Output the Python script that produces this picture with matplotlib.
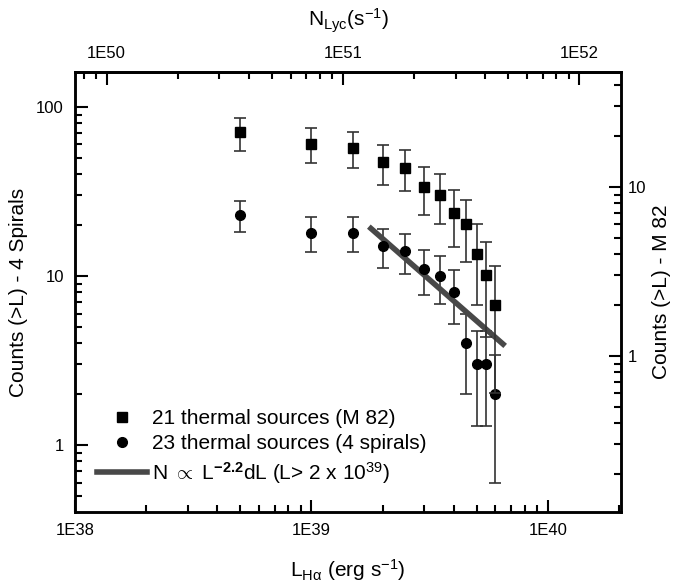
import numpy as np
import matplotlib
matplotlib.use("Agg")
from matplotlib import pyplot as plt
from matplotlib.lines import Line2D
from matplotlib.ticker import LogLocator, FixedLocator, FuncFormatter, NullFormatter

plt.rcParams['font.family'] = ['Liberation Sans', 'DejaVu Sans']
plt.rcParams['mathtext.fontset'] = 'custom'
plt.rcParams['mathtext.rm'] = 'Liberation Sans'
plt.rcParams['mathtext.it'] = 'Liberation Sans'
plt.rcParams['mathtext.bf'] = 'Liberation Sans:bold'

# luminosity bins (erg/s)
lum = [5e38, 1e39, 1.5e39, 2e39, 2.5e39, 3e39, 3.5e39, 4e39, 4.5e39, 5e39, 5.5e39, 6e39]
# M 82 counts (right axis)
m82 = [21, 18, 17, 14, 13, 10, 9, 7, 6, 4, 3, 2]
m82_err = [4.6, 4.2, 4.1, 3.7, 3.6, 3.2, 3.0, 2.6, 2.4, 2.0, 1.7, 1.4]
# 4 spirals counts (left axis)
spir = [23, 18, 18, 15, 14, 11, 10, 8, 4, 3, 3, 2]
spir_err = [4.8, 4.2, 4.2, 3.9, 3.7, 3.3, 3.2, 2.8, 2.0, 1.7, 1.7, 1.4]
# power law fit line ends
fit_l = [1.75e39, 6.6e39]
fit_n = [19.6, 3.86]

bottom_ticks = [1e38, 1e39, 1e40]
top_ticks = [1e50, 1e51, 1e52]
nlyc_per_l = 1.0 / 1.36e-12

fig = plt.figure(figsize=(6.75, 5.84), dpi=100)
ax = fig.add_axes([0.1111, 0.1233, 0.8089, 0.7534])
ax2 = ax.twinx()

ax.set_xscale('log')
ax.set_yscale('log')
ax2.set_yscale('log')
ax.set_xlim(1e38, 2.04e40)
ax.set_ylim(0.402, 161)
ax2.set_ylim(0.119, 47.9)

ebkw = dict(ls='none', ecolor='#333333', elinewidth=1.2, capsize=4, capthick=1.2, mec='black', color='black')
ax.errorbar(lum, spir, yerr=spir_err, marker='o', ms=7, **ebkw)
ax2.errorbar(lum, m82, yerr=m82_err, marker='s', ms=6.5, **ebkw)
ax.plot(fit_l, fit_n, color='#484848', lw=4, solid_capstyle='butt')

def dec_fmt(x, pos):
    return '1E%d' % int(round(np.log10(x)))

def plain_fmt(x, pos):
    return '%g' % x

for a in (ax, ax2):
    for s in a.spines.values():
        s.set_linewidth(1.8)

ax.xaxis.set_major_locator(FixedLocator(bottom_ticks))
ax.xaxis.set_major_formatter(FuncFormatter(dec_fmt))
ax.xaxis.set_minor_locator(LogLocator(subs=np.arange(2, 10), numticks=20))
ax.xaxis.set_minor_formatter(NullFormatter())
ax.yaxis.set_major_locator(FixedLocator([1, 10, 100]))
ax2.yaxis.set_major_locator(FixedLocator([1, 10]))
for a in (ax, ax2):
    a.yaxis.set_major_formatter(FuncFormatter(plain_fmt))
    a.yaxis.set_minor_locator(LogLocator(subs=np.arange(2, 10), numticks=20))
    a.yaxis.set_minor_formatter(NullFormatter())

ax.tick_params(which='both', direction='in', labelsize=12, width=1.5)
ax.tick_params(which='major', length=9, pad=8)
ax.tick_params(which='minor', length=5)
ax2.tick_params(which='both', direction='in', labelsize=12, width=1.5)
ax2.tick_params(which='major', length=9, pad=5)
ax2.tick_params(which='minor', length=5)

top = ax.secondary_xaxis('top', functions=(lambda x: x * nlyc_per_l, lambda n: n / nlyc_per_l))
top.set_xscale('log')
top.xaxis.set_major_locator(FixedLocator(top_ticks))
top.xaxis.set_minor_locator(LogLocator(subs=np.arange(2, 10), numticks=20))
top.xaxis.set_major_formatter(FuncFormatter(dec_fmt))
top.xaxis.set_minor_formatter(NullFormatter())
top.tick_params(which='both', direction='in', labelsize=12, width=1.5)
top.tick_params(which='major', length=9, pad=8)
top.tick_params(which='minor', length=5)
top.spines['top'].set_linewidth(1.8)

ax.set_xlabel(r'L$_{\mathrm{H\alpha}}$ (erg s$^{-1}$)', fontsize=15, labelpad=14)
top.set_xlabel(r'N$_{\mathrm{Lyc}}$(s$^{-1}$)', fontsize=15, labelpad=14)
ax.set_ylabel('Counts (>L) - 4 Spirals', fontsize=15, labelpad=6)
ax2.set_ylabel('Counts (>L) - M 82', fontsize=15, labelpad=4)

handles = [Line2D([], [], ls='none', marker='s', ms=6.5, color='black'),
           Line2D([], [], ls='none', marker='o', ms=7, color='black'),
           Line2D([], [], color='#484848', lw=4)]
labels = ['21 thermal sources (M 82)', '23 thermal sources (4 spirals)',
          r'N $\propto$ L$^{\mathbf{-2.2}}$dL (L> 2 x 10$^{39}$)']
ax2.legend(handles, labels, loc='lower left', bbox_to_anchor=(0.04, 0.06), frameon=False,
           fontsize=15, handlelength=2.4, handletextpad=0.25, labelspacing=0.3,
           borderpad=0, borderaxespad=0)

fig.savefig('out.png', dpi=100)
